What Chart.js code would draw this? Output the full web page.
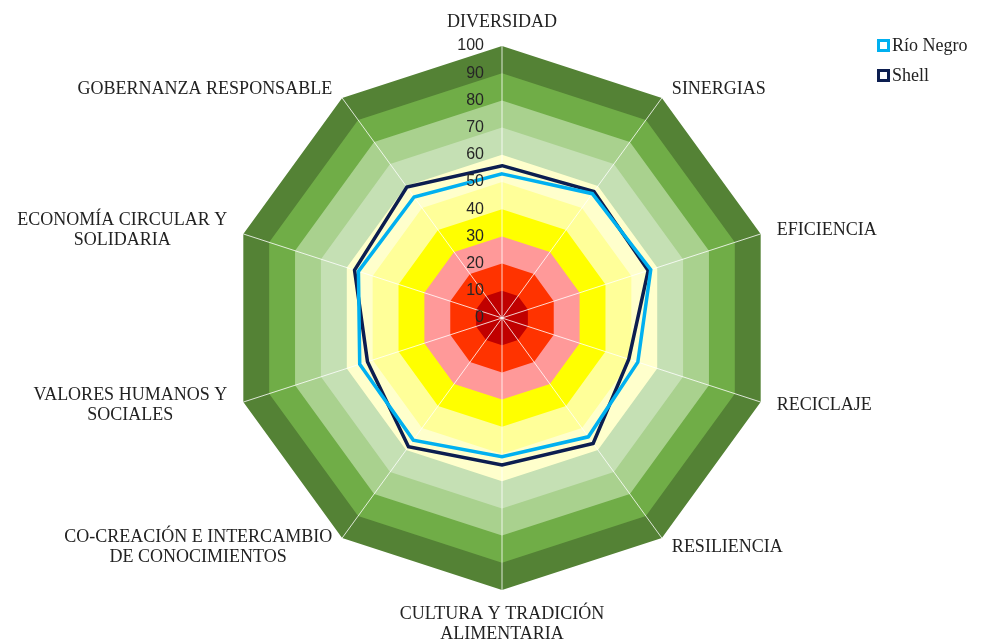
<!DOCTYPE html>
<html lang="es">
<head>
<meta charset="utf-8">
<title>Radar</title>
<script src="https://cdn.jsdelivr.net/npm/chart.js@4.4.1/dist/chart.umd.min.js"></script>
<style>
  body { margin:0; background:#fff; }
  #wrap { position:relative; width:984px; height:639px; }
  #legend { position:absolute; left:877px; top:30px; font-family:"Liberation Serif", "Times New Roman", serif; font-size:18px; color:#222; }
  #legend .item { display:flex; align-items:center; height:30px; }
  #legend .box { width:7px; height:7px; border:3px solid; background:#fff; margin-right:2px; }
</style>
</head>
<body>
<div id="wrap">
  <canvas id="radar" width="984" height="639"></canvas>
  <div id="legend"></div>
</div>
<script>
const categories = [
  ["DIVERSIDAD"],
  ["SINERGIAS"],
  ["EFICIENCIA"],
  ["RECICLAJE"],
  ["RESILIENCIA"],
  ["CULTURA Y TRADICIÓN", "ALIMENTARIA"],
  ["CO-CREACIÓN E INTERCAMBIO", "DE CONOCIMIENTOS"],
  ["VALORES HUMANOS Y", "SOCIALES"],
  ["ECONOMÍA CIRCULAR Y", "SOLIDARIA"],
  ["GOBERNANZA RESPONSABLE"]
];
const rioNegro = [53, 56.5, 57.5, 52.5, 54, 51, 55.5, 55, 55.5, 55];
const shell    = [56, 57.5, 56.5, 49, 57, 54, 58.5, 52, 57, 59.5];

// background rings, inner to outer
const bandLevels = [10, 20, 30, 40, 50, 60, 70, 80, 90, 100];
const bandColors = ["#C00000","#FF3300","#FF9999","#FFFF00","#FFFF99","#FFFFCC","#C5E0B4","#A9D18E","#70AD47","#548235"];

const series = [
  { label: "Río Negro", data: rioNegro, color: "#00B0F0" },
  { label: "Shell",     data: shell,    color: "#0C1E50" }
];

const serif = '"Liberation Serif", "Times New Roman", serif';

const axisText = {
  id: "axisText",
  // spokes go over the rings but under the two series
  afterDatasetDraw(chart, args) {
    if (args.index !== series.length) return;
    const s = chart.scales.r, ctx = chart.ctx;
    ctx.save();
    ctx.strokeStyle = "rgba(255,255,255,0.8)";
    ctx.lineWidth = 1;
    categories.forEach((c, i) => {
      const p = s.getPointPositionForValue(i, s.max);
      ctx.beginPath();
      ctx.moveTo(s.xCenter, s.yCenter);
      ctx.lineTo(p.x, p.y);
      ctx.stroke();
    });
    ctx.restore();
  },
  afterDatasetsDraw(chart) {
    const s = chart.scales.r, ctx = chart.ctx;
    ctx.save();
    ctx.font = '16px "Liberation Sans", Arial, sans-serif';
    ctx.fillStyle = "#262626";
    ctx.textAlign = "right";
    ctx.textBaseline = "middle";
    s.ticks.forEach(t => {
      ctx.fillText(String(t.value), s.xCenter - 18, s.yCenter - s.getDistanceFromCenterForValue(t.value));
    });
    ctx.restore();
  },
  afterDraw(chart) {
    const s = chart.scales.r, ctx = chart.ctx;
    const r = s.drawingArea, lineH = 20;
    ctx.save();
    ctx.font = "18px " + serif;
    ctx.fillStyle = "#222";
    ctx.textAlign = "center";
    ctx.textBaseline = "middle";
    categories.forEach((lines, i) => {
      const a = s.getIndexAngle(i);
      const sin = Math.sin(a), cos = Math.cos(a);
      const v = s.getPointPosition(i, r);
      const w = Math.max(...lines.map(l => ctx.measureText(l).width));
      const h = lines.length * lineH;
      let cx = v.x, cy;
      if (Math.abs(sin) < 0.01) {
        cy = v.y - cos * (14 + h / 2);
      } else {
        cx = v.x + sin * 17 + Math.sign(sin) * w / 2;
        cy = v.y - cos * 11;
      }
      lines.forEach((l, k) => ctx.fillText(l, cx, cy - h / 2 + lineH / 2 + k * lineH));
    });
    ctx.restore();
  }
};

const datasets = series.map(s => ({
  label: s.label,
  data: s.data,
  borderColor: s.color,
  borderWidth: 3.5,
  pointRadius: 0,
  fill: false
})).concat(bandLevels.map((lvl, i) => ({
  label: "band" + lvl,
  data: categories.map(() => lvl),
  backgroundColor: bandColors[i],
  borderWidth: 0,
  pointRadius: 0,
  fill: "origin"
})));

const chart = new Chart(document.getElementById("radar"), {
  type: "radar",
  data: { labels: categories, datasets },
  options: {
    responsive: false,
    animation: false,
    layout: { padding: { left: 230, right: 210, top: 46, bottom: 49 } },
    plugins: { legend: { display: false }, tooltip: { enabled: false } },
    elements: { line: { tension: 0 } },
    scales: {
      r: {
        min: 0, max: 100,
        ticks: { stepSize: 10, display: false },
        grid: { display: false },
        angleLines: { display: false },
        pointLabels: { display: false }
      }
    }
  },
  plugins: [axisText]
});

// legend for the two series only
document.getElementById("legend").innerHTML = chart.data.datasets.slice(0, series.length).map(d =>
  `<div class="item"><span class="box" style="border-color:${d.borderColor}"></span>${d.label}</div>`
).join("");
</script>
</body>
</html>
